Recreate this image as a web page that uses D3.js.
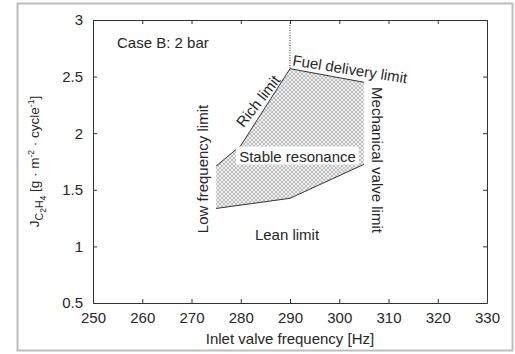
<!DOCTYPE html>
<html>
<head>
<meta charset="utf-8">
<script src="https://cdn.jsdelivr.net/npm/d3@7"></script>
<style>
  html, body { margin: 0; padding: 0; background: #fff; }
  svg { display: block; font-family: Arial, "Liberation Sans", sans-serif; }
</style>
</head>
<body>
<svg id="chart" width="515" height="354"></svg>
<script>
// Operating map boundaries (inlet valve frequency [Hz] vs. J_C2H4)
const upperFreq = [275, 280, 290, 305];      // rich limit then fuel delivery limit
const upperJ    = [1.71, 1.89, 2.57, 2.45];
const lowerFreq = [275, 290, 305];           // lean limit
const lowerJ    = [1.335, 1.425, 1.725];
const xTicks = [250, 260, 270, 280, 290, 300, 310, 320, 330];
const yTicks = [0.5, 1, 1.5, 2, 2.5, 3];
const fuelLimitFreq = 290;                   // dotted marker

const svg = d3.select("#chart");
const W = 515, H = 354;
const margin = { left: 93, right: 28, top: 20, bottom: 51 };
const textColor = "#262626";
const fontSize = 15;

// outer frame
svg.append("rect")
  .attr("x", 17.5).attr("y", 3.5).attr("width", 495).attr("height", 347)
  .attr("fill", "#fff").attr("stroke", "#bdbdbd").attr("stroke-width", 2);

const x = d3.scaleLinear().domain([250, 330]).range([margin.left, W - margin.right]);
const y = d3.scaleLinear().domain([0.5, 3]).range([H - margin.bottom, margin.top]);

// hatch pattern for the stable region
const defs = svg.append("defs");
const pat = defs.append("pattern")
  .attr("id", "hatch").attr("patternUnits", "userSpaceOnUse")
  .attr("width", 4).attr("height", 4);
pat.append("rect").attr("width", 4).attr("height", 4).attr("fill", "#efefef");
pat.append("path").attr("d", "M0,0 L4,4 M4,0 L0,4 M-1,3 L1,5 M3,-1 L5,1 M-1,1 L1,-1 M3,5 L5,3")
  .attr("stroke", "#ababab").attr("stroke-width", 0.7).attr("fill", "none");

const upper = upperFreq.map((f, i) => [f, upperJ[i]]);
const lower = lowerFreq.map((f, i) => [f, lowerJ[i]]);
const region = upper.concat(lower.slice().reverse());

const line = d3.line().x(d => x(d[0])).y(d => y(d[1]));

svg.append("path")
  .attr("d", line(region) + "Z")
  .attr("fill", "url(#hatch)").attr("stroke", "none");

// boundary lines
const richLine = upper.slice(0, 3);
const fuelLine = upper.slice(2);
[richLine, fuelLine, lower].forEach(seg => {
  svg.append("path").attr("d", line(seg))
    .attr("fill", "none").attr("stroke", "#333").attr("stroke-width", 1);
});

// dotted vertical marker up to the top axis
svg.append("line")
  .attr("x1", x(fuelLimitFreq)).attr("x2", x(fuelLimitFreq))
  .attr("y1", y(3)).attr("y2", y(upperJ[2]))
  .attr("stroke", "#333").attr("stroke-width", 1).attr("stroke-dasharray", "1,1.5");

// axes: ticks pointing inward on all four sides
const tickLen = 4;
const axisColor = "#333";
const gx = svg.append("g").attr("transform", `translate(0,${y(0.5)})`)
  .call(d3.axisBottom(x).tickValues(xTicks).tickSizeInner(-tickLen).tickSizeOuter(0).tickPadding(9));
const gxTop = svg.append("g").attr("transform", `translate(0,${y(3)})`)
  .call(d3.axisTop(x).tickValues(xTicks).tickSizeInner(-tickLen).tickSizeOuter(0).tickFormat(""));
const gy = svg.append("g").attr("transform", `translate(${x(250)},0)`)
  .call(d3.axisLeft(y).tickValues(yTicks).tickSizeInner(-tickLen).tickSizeOuter(0).tickPadding(10)
    .tickFormat(d3.format("~g")));
const gyRight = svg.append("g").attr("transform", `translate(${x(330)},0)`)
  .call(d3.axisRight(y).tickValues(yTicks).tickSizeInner(-tickLen).tickSizeOuter(0).tickFormat(""));

[gx, gxTop, gy, gyRight].forEach(g => {
  g.select(".domain").attr("stroke", axisColor).attr("stroke-width", 1);
  g.selectAll(".tick line").attr("stroke", axisColor);
  g.selectAll(".tick text").attr("fill", textColor).attr("font-size", fontSize)
    .attr("font-family", "Arial, 'Liberation Sans', sans-serif");
});
gx.selectAll(".tick text").attr("dy", "0.71em");

// axis titles
svg.append("text")
  .attr("x", (x(250) + x(330)) / 2).attr("y", 344)
  .attr("text-anchor", "middle").attr("font-size", fontSize).attr("fill", textColor)
  .text("Inlet valve frequency [Hz]");

const yl = svg.append("text")
  .attr("transform", `translate(39,${(y(0.5) + y(3)) / 2}) rotate(-90)`)
  .attr("text-anchor", "middle").attr("font-size", 13.5).attr("fill", textColor);
yl.append("tspan").text("J");
yl.append("tspan").attr("font-size", 10.5).attr("dy", 4).text("C");
yl.append("tspan").attr("font-size", 8.5).attr("dy", 3).text("2");
yl.append("tspan").attr("font-size", 10.5).attr("dy", -3).text("H");
yl.append("tspan").attr("font-size", 8.5).attr("dy", 3).text("4");
yl.append("tspan").attr("dy", -7).text(" [g \u00b7 m");
yl.append("tspan").attr("font-size", 8.5).attr("dy", -5).text("-2");
yl.append("tspan").attr("dy", 5).text(" \u00b7 cycle");
yl.append("tspan").attr("font-size", 8.5).attr("dy", -5).text("-1");
yl.append("tspan").attr("dy", 5).text("]");

// annotations
const ann = (txt, px, py, rot) => svg.append("text")
  .attr("transform", `translate(${px},${py}) rotate(${rot})`)
  .attr("text-anchor", "middle")
  .attr("dominant-baseline", "central")
  .attr("font-size", fontSize).attr("fill", textColor)
  .text(txt);

svg.append("text")
  .attr("x", 117).attr("y", 48).attr("font-size", fontSize).attr("fill", textColor)
  .text("Case B: 2 bar");

ann("Rich limit", 258, 101, -52);
ann("Fuel delivery limit", 350, 69, 9);
ann("Mechanical valve limit", 377, 160, 90);
ann("Low frequency limit", 202, 169, -90);
ann("Lean limit", 287, 234, 0);

// label with white backing inside the stable region
const sx = 297.5, sy = 156;
const st = ann("Stable resonance", sx, sy, 0);
const bb = st.node().getBBox();
svg.insert("rect", () => st.node())
  .attr("x", sx + bb.x - 3).attr("y", sy + bb.y - 1)
  .attr("width", bb.width + 6).attr("height", bb.height + 1)
  .attr("fill", "#fff");
</script>
</body>
</html>
